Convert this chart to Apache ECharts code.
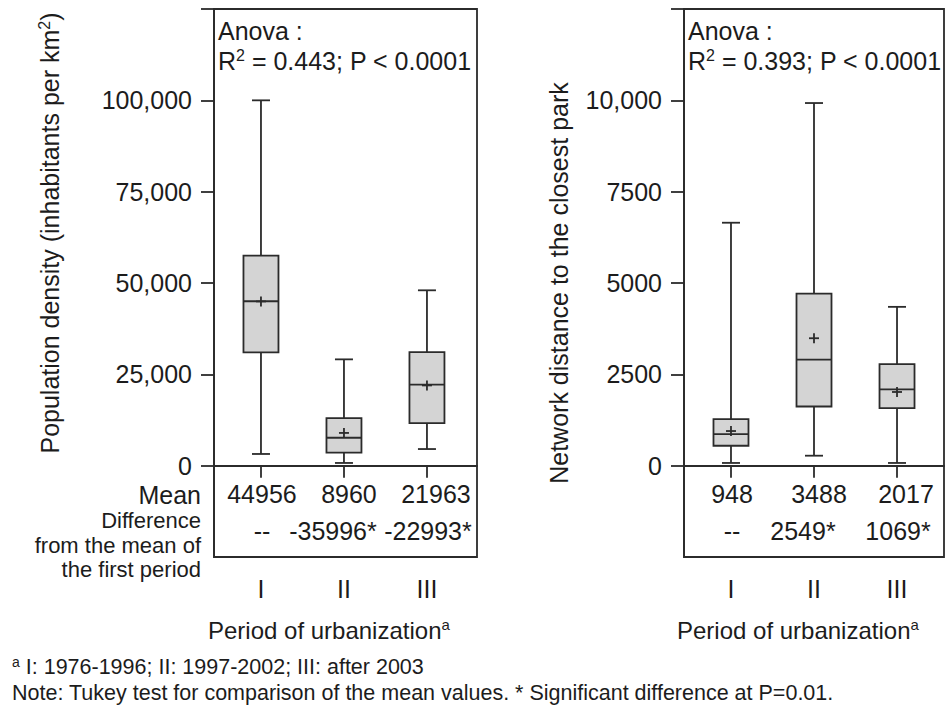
<!DOCTYPE html>
<html>
<head>
<meta charset="utf-8">
<script src="https://cdn.jsdelivr.net/npm/echarts@6/dist/echarts.min.js"></script>
<style>
html,body{margin:0;padding:0;background:#fff;}
#chart{width:946px;height:715px;}
</style>
</head>
<body>
<div id="chart"></div>
<script>
// ---- data ----
const categories = ['I', 'II', 'III'];
// [min, Q1, median, Q3, max]
const densityStats = [
  [3200, 31000, 45000, 57500, 100000],
  [740, 3550, 7640, 13000, 29100],
  [4550, 11640, 22200, 31100, 48000]
];
const densityMeans = [44956, 8960, 21963];
const densityDiff = ['--', '-35996*', '-22993*'];
const densityTicks = [0, 25000, 50000, 75000, 100000];

const distanceStats = [
  [74, 545, 864, 1273, 6650],
  [273, 1620, 2900, 4710, 9926],
  [74, 1573, 2090, 2782, 4347]
];
const distanceMeans = [948, 3488, 2017];
const distanceDiff = ['--', '2549*', '1069*'];
const distanceTicks = [0, 2500, 5000, 7500, 10000];

const anovaLeft = 'R{sup|2} = 0.443; P < 0.0001';
const anovaRight = 'R{sup|2} = 0.393; P < 0.0001';
const diffLabelLines = ['Difference', 'from the mean of', 'the first period'];

// ---- style / layout ----
const FONT = '"Liberation Sans", Arial, sans-serif';
const FS = 25;
const INK = '#1c1c1c';
const LINE = '#2b2b2b';
const FILL = '#d4d4d4';
const LW = 1.8;
const meanShift = [1, 5, 9];     // px offsets of the typed table text
const diffShift = [1, -11, 1];

function buildData(stats, means) {
  return stats.map((s, i) => [i + 1, s[0], s[1], s[2], s[3], s[4], means[i]]);
}

function makeRender(means, diffs, interval) {
  return function (params, api) {
    const i = params.dataIndex;
    const x = api.value(0);
    const pMin = api.coord([x, api.value(1)]);
    const pQ1 = api.coord([x, api.value(2)]);
    const pMed = api.coord([x, api.value(3)]);
    const pQ3 = api.coord([x, api.value(4)]);
    const pMax = api.coord([x, api.value(5)]);
    const pMean = api.coord([x, api.value(6)]);
    const cx = pMed[0];
    const hw = 17.5, cap = 9, cr = 5;
    const ls = { stroke: LINE, lineWidth: LW, fill: null };
    const pRow1 = api.coord([x, -0.31 * interval]);
    const pRow2 = api.coord([x, -0.71 * interval]);
    return {
      type: 'group',
      children: [
        { type: 'line', shape: { x1: cx, y1: pQ3[1], x2: cx, y2: pMax[1] }, style: ls },
        { type: 'line', shape: { x1: cx, y1: pQ1[1], x2: cx, y2: pMin[1] }, style: ls },
        { type: 'line', shape: { x1: cx - cap, y1: pMax[1], x2: cx + cap, y2: pMax[1] }, style: ls },
        { type: 'line', shape: { x1: cx - cap, y1: pMin[1], x2: cx + cap, y2: pMin[1] }, style: ls },
        { type: 'rect', shape: { x: cx - hw, y: pQ3[1], width: hw * 2, height: pQ1[1] - pQ3[1] },
          style: { fill: FILL, stroke: LINE, lineWidth: LW } },
        { type: 'line', shape: { x1: cx - hw, y1: pMed[1], x2: cx + hw, y2: pMed[1] }, style: ls },
        { type: 'line', shape: { x1: cx - cr, y1: pMean[1], x2: cx + cr, y2: pMean[1] }, style: ls },
        { type: 'line', shape: { x1: cx, y1: pMean[1] - cr, x2: cx, y2: pMean[1] + cr }, style: ls },
        { type: 'text', style: { text: String(means[i]), x: cx + meanShift[i], y: pRow1[1], align: 'center', verticalAlign: 'middle',
            font: FS + 'px ' + FONT, fill: INK } },
        { type: 'text', style: { text: diffs[i], x: cx + diffShift[i], y: pRow2[1], align: 'center', verticalAlign: 'middle',
            font: FS + 'px ' + FONT, fill: INK } }
      ]
    };
  };
}

function xAxisCfg(gi, max) {
  return {
    type: 'value', gridIndex: gi, min: 0.434, max: max,
    axisLine: { show: true, lineStyle: { color: LINE, width: LW } },
    axisTick: { show: true, length: 12, customValues: [1, 2, 3], lineStyle: { color: LINE, width: LW } },
    axisLabel: { customValues: [1, 2, 3], formatter: v => categories[Math.round(v) - 1], margin: 19,
      color: INK, fontSize: FS, fontFamily: FONT },
    splitLine: { show: false }
  };
}

function yAxisCfg(gi, ticks, interval, fmt) {
  return {
    type: 'value', gridIndex: gi, min: -interval, max: interval * 5, interval: interval,
    axisLine: { show: true, lineStyle: { color: LINE, width: LW } },
    axisTick: { show: true, length: 13, customValues: ticks.concat([interval * 5]), lineStyle: { color: LINE, width: LW } },
    axisLabel: { customValues: ticks, formatter: fmt, margin: 22, color: INK, fontSize: FS, fontFamily: FONT },
    splitLine: { show: false }
  };
}

const chart = echarts.init(document.getElementById('chart'), null, { renderer: 'svg' });

const txt = (t, x, y, extra) => Object.assign({
  type: 'text', x: x, y: y,
  style: Object.assign({ text: t, font: FS + 'px ' + FONT, fill: INK, align: 'left', verticalAlign: 'middle' }, extra || {})
});
const supRich = { sup: { fontSize: 16, fontFamily: FONT, fill: INK, padding: [0, 0, 12, 0] } };
const supSmall = { sup: { fontSize: 15, fontFamily: FONT, fill: INK, padding: [0, 0, 11, 0] } };

chart.setOption({
  animation: false,
  backgroundColor: '#fff',
  grid: [
    { left: 214, top: 9, width: 263, height: 548, show: true, borderColor: LINE, borderWidth: LW },
    { left: 684, top: 9, width: 260, height: 548, show: true, borderColor: LINE, borderWidth: LW }
  ],
  xAxis: [xAxisCfg(0, 3.603), xAxisCfg(1, 3.566)],
  yAxis: [
    yAxisCfg(0, densityTicks, 25000, v => v.toLocaleString('en-US')),
    yAxisCfg(1, distanceTicks, 2500, v => v >= 10000 ? v.toLocaleString('en-US') : String(v))
  ],
  series: [
    { type: 'custom', xAxisIndex: 0, yAxisIndex: 0, clip: false,
      data: buildData(densityStats, densityMeans),
      renderItem: makeRender(densityMeans, densityDiff, 25000) },
    { type: 'custom', xAxisIndex: 1, yAxisIndex: 1, clip: false,
      data: buildData(distanceStats, distanceMeans),
      renderItem: makeRender(distanceMeans, distanceDiff, 2500) }
  ],
  graphic: [
    txt('Anova :', 218, 31),
    txt(anovaLeft, 218, 61, { rich: supRich }),
    txt('Anova :', 688, 31),
    txt(anovaRight, 688, 61, { rich: supRich }),
    txt('Mean', 201, 495, { align: 'right' }),
    txt(diffLabelLines[0], 201, 520.5, { align: 'right', font: '22px ' + FONT }),
    txt(diffLabelLines[1], 201, 545, { align: 'right', font: '22px ' + FONT }),
    txt(diffLabelLines[2], 201, 569.5, { align: 'right', font: '22px ' + FONT }),
    Object.assign(txt('Population density (inhabitants per km{sup|2})', 50, 233,
      { align: 'center', rich: supRich }), { rotation: Math.PI / 2 }),
    Object.assign(txt('Network distance to the closest park', 559, 283,
      { align: 'center' }), { rotation: Math.PI / 2 }),
    txt('Period of urbanization{sup|a}', 208, 630, { font: '24px ' + FONT, rich: supSmall }),
    txt('Period of urbanization{sup|a}', 677, 630, { font: '24px ' + FONT, rich: supSmall }),
    txt('{sup|a} I: 1976-1996; II: 1997-2002; III: after 2003', 12, 667, { font: '21.5px ' + FONT, rich: { sup: { fontSize: 14, fontFamily: FONT, fill: INK, padding: [0, 0, 10, 0] } } }),
    txt('Note: Tukey test for comparison of the mean values. * Significant difference at P=0.01.', 12, 693, { font: '21.5px ' + FONT })
  ]
});
</script>
</body>
</html>
